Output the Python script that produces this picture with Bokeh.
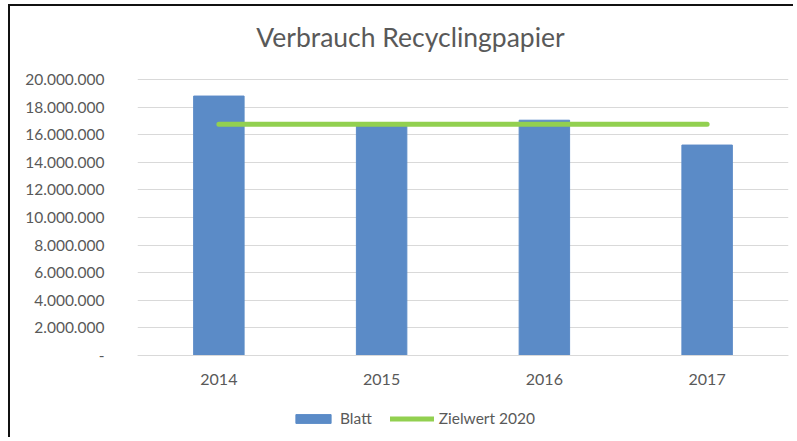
from bokeh.plotting import figure
from bokeh.models import FixedTicker, Legend, LegendItem, FactorRange, Range1d, Label
from bokeh.embed import file_html
from bokeh.resources import INLINE

years = ["2014", "2015", "2016", "2017"]
blatt = [18800000, 16650000, 17050000, 15250000]
zielwert = [16750000, 16750000, 16750000, 16750000]
y_ticks = [0, 2000000, 4000000, 6000000, 8000000, 10000000, 12000000,
           14000000, 16000000, 18000000, 20000000]
y_tick_labels = ["-", "2.000.000", "4.000.000", "6.000.000", "8.000.000",
                 "10.000.000", "12.000.000", "14.000.000", "16.000.000",
                 "18.000.000", "20.000.000"]
title_text = "Verbrauch Recyclingpapier"

FONT = "Lato"
TXT = "#595959"

# geometry (pixels on the canvas) -> value range so the frame holds title and legend
H = 433
Y_TOP_PX = 73      # canvas y of the 20.000.000 line
Y_ZERO_PX = 349    # canvas y of the zero line
units_per_px = 20000000 / (Y_ZERO_PX - Y_TOP_PX)
y_end = 20000000 + Y_TOP_PX * units_per_px
y_start = -(H - Y_ZERO_PX) * units_per_px

p = figure(width=785, height=H, output_backend="svg", toolbar_location=None,
           x_range=FactorRange(*years, range_padding=0),
           y_range=Range1d(y_start, y_end),
           min_border_left=127, min_border_right=7, min_border_top=0,
           min_border_bottom=0)
p.styles = {"margin-left": "8px", "margin-top": "4px",
            "border-left": "2px solid #111111", "border-top": "2px solid #111111"}
p.outline_line_color = None
p.background_fill_color = "white"
p.border_fill_color = "white"

bars = p.vbar(x=years, top=blatt, width=0.31, fill_color="#5B8BC7",
              line_color="#5B8BC7")
line = p.line(x=years, y=zielwert, line_color="#92D050", line_width=5,
              line_cap="round")

p.xgrid.grid_line_color = None
p.ygrid.grid_line_color = "#D9D9D9"
p.ygrid.grid_line_width = 1
p.yaxis.ticker = FixedTicker(ticks=y_ticks)
p.yaxis.major_label_overrides = {t: l for t, l in zip(y_ticks, y_tick_labels)}
for ax in (p.xaxis, p.yaxis):
    ax.major_tick_line_color = None
    ax.minor_tick_line_color = None
    ax.major_label_text_font = FONT
    ax.major_label_text_color = TXT
p.xaxis.fixed_location = 0
p.xaxis.major_label_text_font_size = "16px"
p.yaxis.major_label_text_font_size = "15.5px"
p.yaxis.axis_line_color = None
p.xaxis.axis_line_color = "#D9D9D9"
p.yaxis.major_label_standoff = 27
p.xaxis.major_label_standoff = 12

title = Label(x=273, y=H - 30, x_units="screen", y_units="screen",
              text=title_text, text_font=FONT, text_font_size="26.5px",
              text_color=TXT, text_align="center", text_baseline="alphabetic")
p.add_layout(title)

legend = Legend(items=[LegendItem(label="Blatt", renderers=[bars]),
                       LegendItem(label="Zielwert 2020", renderers=[line])],
                orientation="horizontal", location=(154, 12),
                glyph_width=44, glyph_height=11, label_standoff=5, spacing=18,
                padding=0, margin=0, border_line_color=None,
                background_fill_alpha=0,
                label_text_font=FONT, label_text_font_size="15.5px",
                label_text_color=TXT)
p.add_layout(legend, "center")

open("out.html", "w").write(file_html(p, INLINE))
